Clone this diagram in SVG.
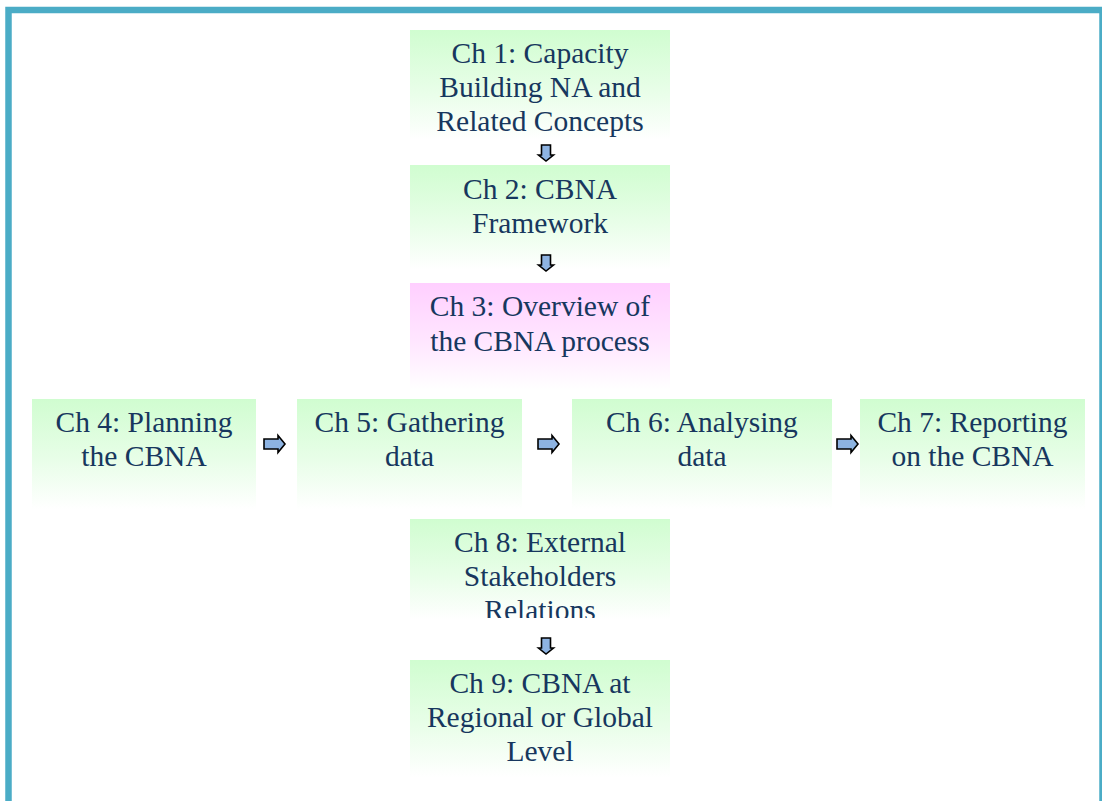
<svg xmlns="http://www.w3.org/2000/svg" width="1102" height="801" viewBox="0 0 1102 801">
<style>
.t{font-family:"Liberation Serif","DejaVu Serif","Noto Serif",serif;font-size:29.5px;fill:#17375e;text-anchor:middle}
.arr{fill:#8db3e2;stroke:#000;stroke-width:1.6;stroke-linejoin:miter}
</style>
<defs>
<linearGradient id="g" x1="0" y1="0" x2="0" y2="1">
<stop offset="0" stop-color="#d0fdd0"/>
<stop offset="0.55" stop-color="#e8fee8"/>
<stop offset="1" stop-color="#ffffff"/>
</linearGradient>
<linearGradient id="p" x1="0" y1="0" x2="0" y2="1">
<stop offset="0" stop-color="#ffcfff"/>
<stop offset="0.55" stop-color="#ffe6ff"/>
<stop offset="1" stop-color="#ffffff"/>
</linearGradient>
<clipPath id="c8"><rect x="410" y="519" width="260" height="99"/></clipPath>
<path id="da" d="M-4.5,0 H4.5 V10 H7.5 L0,16 L-7.5,10 H-4.5 Z"/>
<path id="ra" d="M0,-5 H14 V-8.5 L21,0 L14,8.5 V5 H0 Z"/>
</defs>
<rect width="1102" height="801" fill="#fff"/>
<rect x="8.5" y="10" width="1094" height="830" fill="none" stroke="#4bacc6" stroke-width="6.5"/>

<g id="ch1">
<rect x="410" y="30" width="260" height="110" fill="url(#g)"/>
<text class="t" x="540" y="63">Ch 1: Capacity</text>
<text class="t" x="540" y="97">Building NA and</text>
<text class="t" x="540" y="131">Related Concepts</text>
</g>
<g id="ch2">
<rect x="410" y="165" width="260" height="105" fill="url(#g)"/>
<text class="t" x="540" y="199">Ch 2: CBNA</text>
<text class="t" x="540" y="233">Framework</text>
</g>
<g id="ch3">
<rect x="410" y="283" width="260" height="107" fill="url(#p)"/>
<text class="t" x="540" y="316">Ch 3: Overview of</text>
<text class="t" x="540" y="351">the CBNA process</text>
</g>
<g id="ch4">
<rect x="32" y="399" width="224" height="110" fill="url(#g)"/>
<text class="t" x="144" y="432">Ch 4: Planning</text>
<text class="t" x="144" y="466">the CBNA</text>
</g>
<g id="ch5">
<rect x="297" y="399" width="225" height="110" fill="url(#g)"/>
<text class="t" x="409.5" y="432">Ch 5: Gathering</text>
<text class="t" x="409.5" y="466">data</text>
</g>
<g id="ch6">
<rect x="572" y="399" width="260" height="110" fill="url(#g)"/>
<text class="t" x="702" y="432">Ch 6: Analysing</text>
<text class="t" x="702" y="466">data</text>
</g>
<g id="ch7">
<rect x="860" y="399" width="225" height="110" fill="url(#g)"/>
<text class="t" x="972.5" y="432">Ch 7: Reporting</text>
<text class="t" x="972.5" y="466">on the CBNA</text>
</g>
<g id="ch8">
<rect x="410" y="519" width="260" height="101" fill="url(#g)"/>
<g clip-path="url(#c8)">
<text class="t" x="540" y="552">Ch 8: External</text>
<text class="t" x="540" y="586">Stakeholders</text>
<text class="t" x="540" y="620">Relations</text>
</g>
</g>
<g id="ch9">
<rect x="410" y="660" width="260" height="117" fill="url(#g)"/>
<text class="t" x="540" y="693">Ch 9: CBNA at</text>
<text class="t" x="540" y="727">Regional or Global</text>
<text class="t" x="540" y="761">Level</text>
</g>

<g id="connectors">
<use href="#da" class="arr" x="546" y="145"/>
<use href="#da" class="arr" x="546" y="255"/>
<use href="#da" class="arr" x="546" y="638"/>
<use href="#ra" class="arr" x="264" y="444"/>
<use href="#ra" class="arr" x="538" y="444"/>
<use href="#ra" class="arr" x="837" y="444"/>
</g>
</svg>
